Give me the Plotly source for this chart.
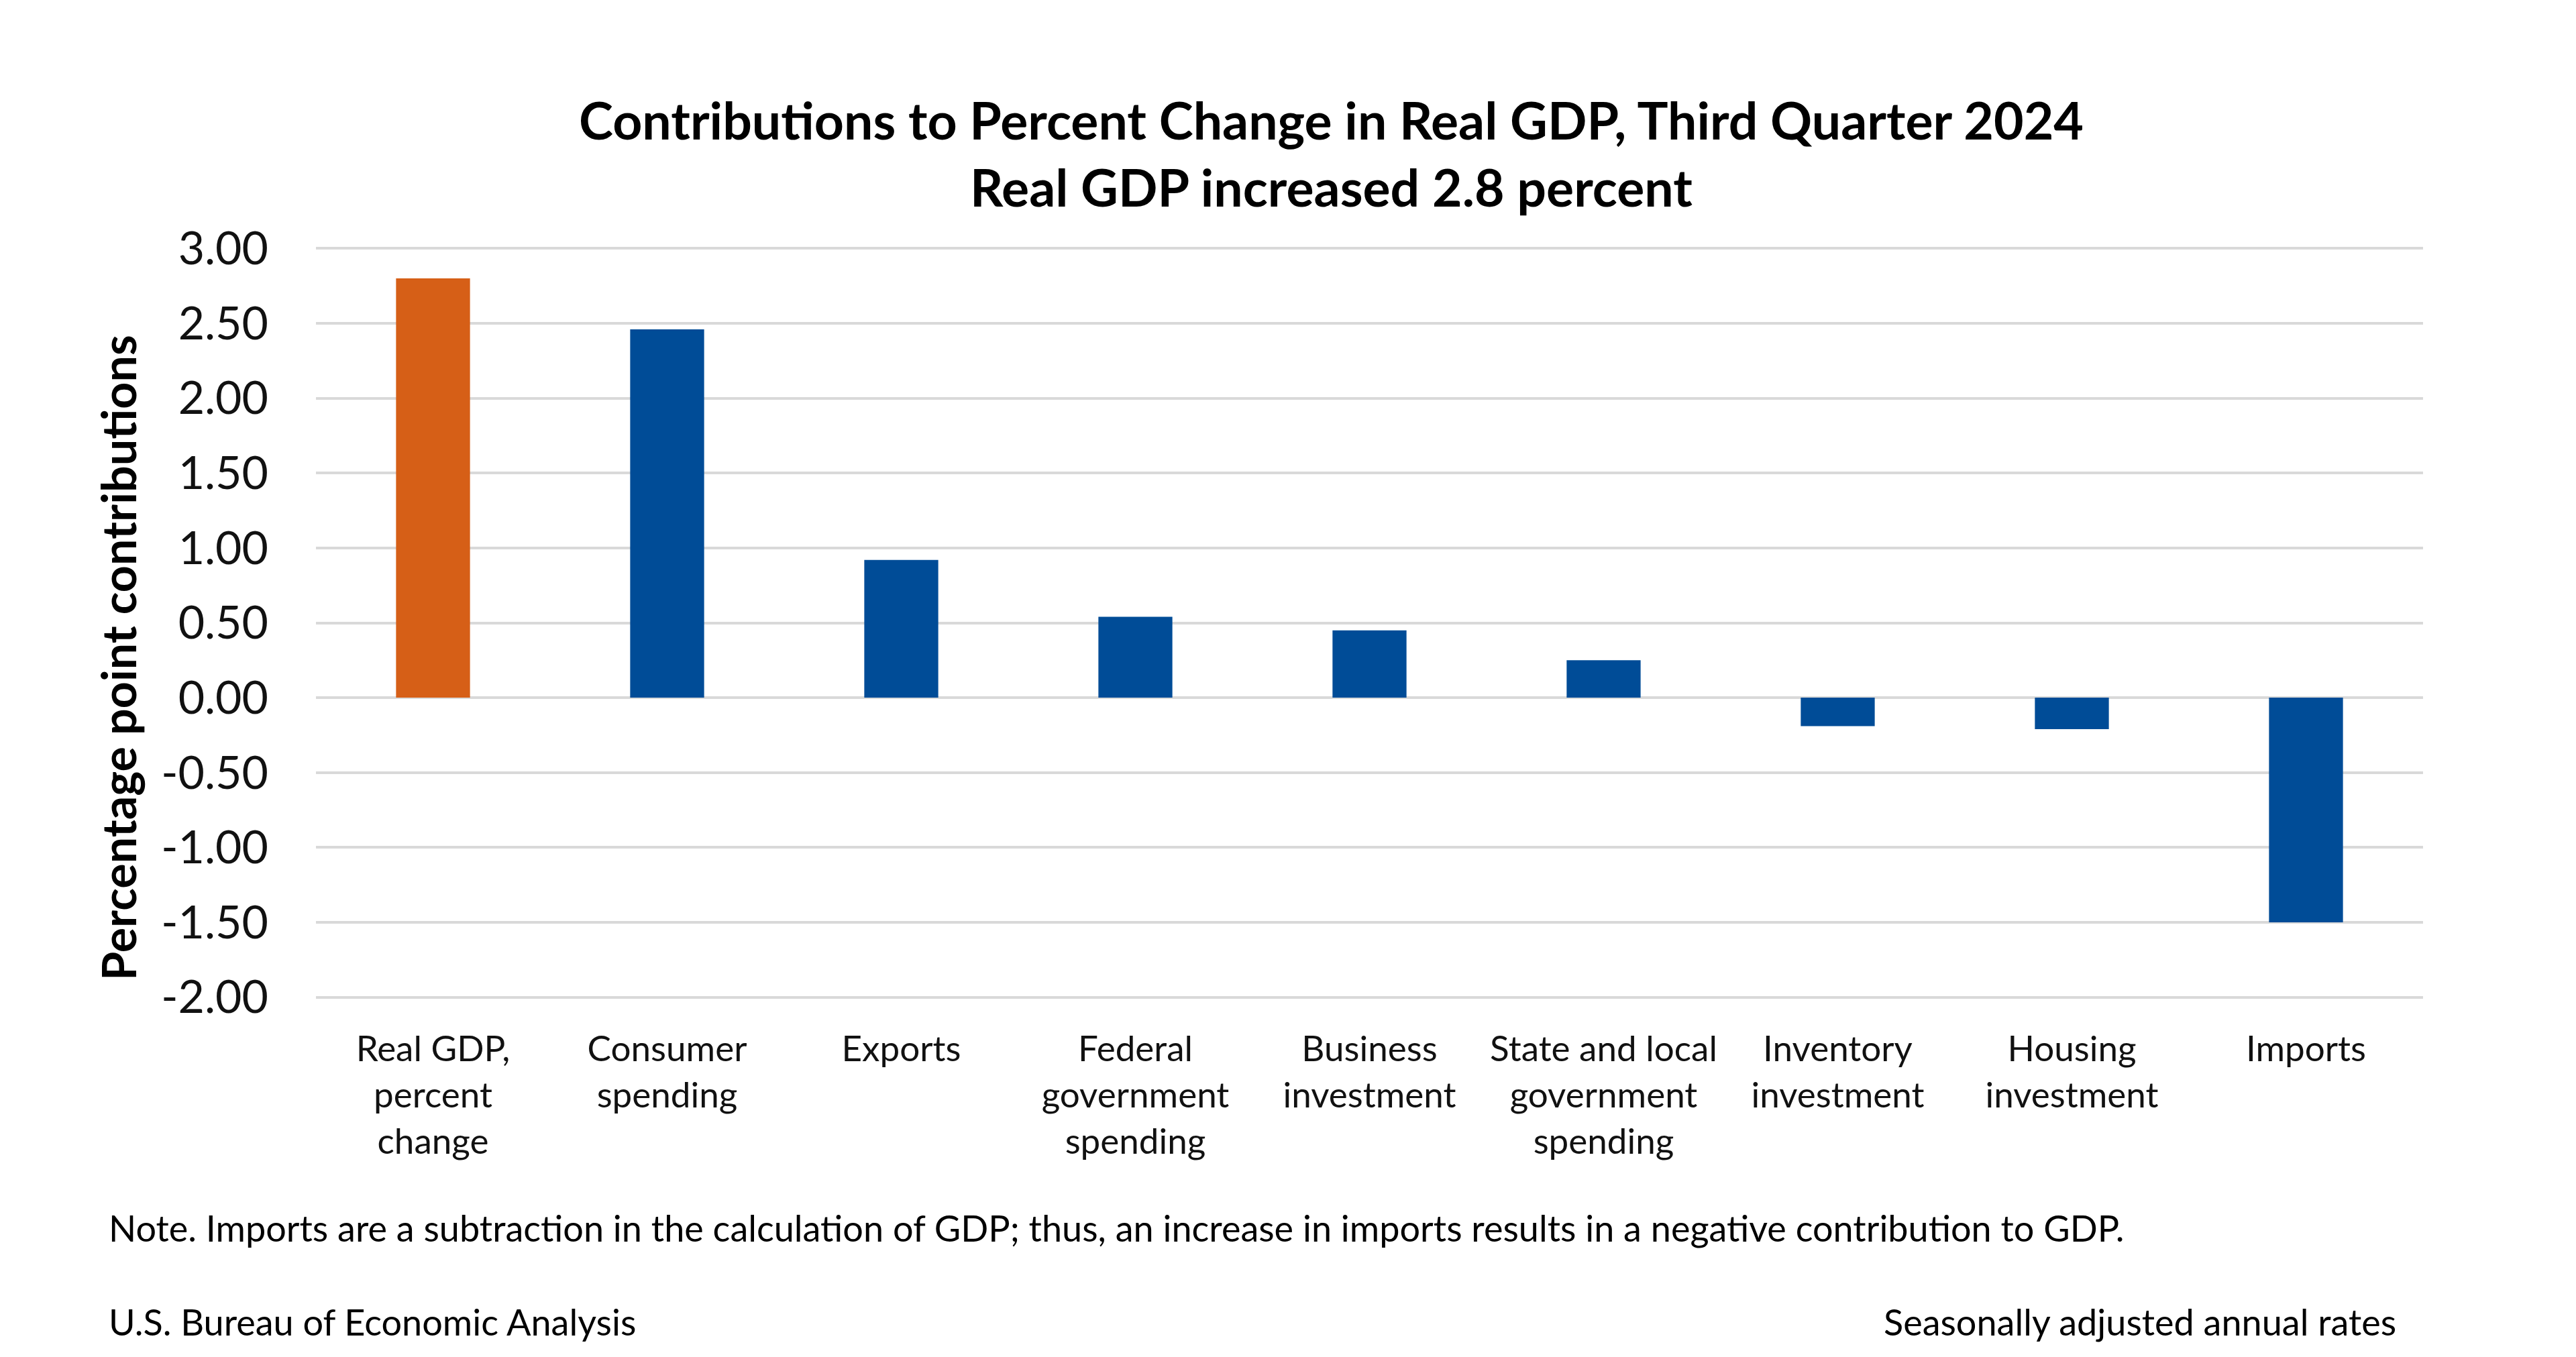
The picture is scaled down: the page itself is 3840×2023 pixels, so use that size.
import plotly.graph_objects as go

categories = ["Real GDP,<br>percent<br>change", "Consumer<br>spending", "Exports",
              "Federal<br>government<br>spending", "Business<br>investment",
              "State and local<br>government<br>spending", "Inventory<br>investment",
              "Housing<br>investment", "Imports"]
values = [2.80, 2.46, 0.92, 0.54, 0.45, 0.25, -0.19, -0.21, -1.50]
bar_colors = ["#D65F17", "#004C97", "#004C97", "#004C97", "#004C97",
              "#004C97", "#004C97", "#004C97", "#004C97"]
y_ticks = [3.0, 2.5, 2.0, 1.5, 1.0, 0.5, 0.0, -0.5, -1.0, -1.5, -2.0]
y_tick_text = ["3.00", "2.50", "2.00", "1.50", "1.00", "0.50", "0.00",
               "-0.50", "-1.00", "-1.50", "-2.00"]

FONT = "Lato, 'Open Sans', sans-serif"
W, H = 3840, 2023
YMIN, YMAX = -2.02, 3.02
# pixel positions of the y=3 and y=-2 gridlines in the target
y3_px, ym2_px = 362, 1479
unit = (ym2_px - y3_px) / 5.0
T = round(y3_px - (YMAX - 3.0) * unit)
B = round(H - (ym2_px + (-2.0 - YMIN) * unit))
L, R = 463, 236
pw, ph = W - L - R, H - T - B

def px(xp):
    return (xp - L) / pw

def py(yp):
    return (H - B - yp) / ph

fig = go.Figure(go.Bar(x=list(range(len(categories))), y=values,
                       marker=dict(color=bar_colors, line=dict(width=0)),
                       hoverinfo="skip"))

fig.update_layout(
    width=W, height=H,
    margin=dict(l=L, r=R, t=T, b=B),
    paper_bgcolor="white", plot_bgcolor="white",
    bargap=0.684, showlegend=False,
    font=dict(family=FONT, color="#111111"),
    xaxis=dict(tickvals=list(range(len(categories))), ticktext=categories,
               range=[-0.5, len(categories) - 0.5], showgrid=False,
               zeroline=False, showline=False, ticks="",
               tickfont=dict(size=53, family=FONT, color="#111111"),
               ticklabelstandoff=37),
    yaxis=dict(range=[YMIN, YMAX], tickvals=y_ticks, ticktext=y_tick_text,
               showgrid=True, gridcolor="#D9D9D9", gridwidth=4,
               zeroline=False, showline=False, ticks="",
               tickfont=dict(size=68, family=FONT, color="#111111"),
               ticklabelstandoff=70),
)

fig.add_annotation(xref="paper", yref="paper", x=px(1976), y=py(220),
                   xanchor="center", yanchor="middle", showarrow=False,
                   text="<b>Contributions to Percent Change in Real GDP, Third Quarter 2024</b><br>"
                        "<b>Real GDP increased 2.8 percent</b>",
                   font=dict(size=77, family=FONT, color="#000000"))
fig.add_annotation(xref="paper", yref="paper", x=px(168), y=py(973),
                   xanchor="center", yanchor="middle", showarrow=False,
                   textangle=-90, text="<b>Percentage point contributions</b>",
                   font=dict(size=70, family=FONT, color="#000000"))
fig.add_annotation(xref="paper", yref="paper", x=px(152), y=py(1822),
                   xanchor="left", yanchor="middle", showarrow=False,
                   text="Note. Imports are a subtraction in the calculation of GDP; thus, an increase in imports results in a negative contribution to GDP.",
                   font=dict(size=54, family=FONT, color="#000000"))
fig.add_annotation(xref="paper", yref="paper", x=px(152), y=py(1962),
                   xanchor="left", yanchor="middle", showarrow=False,
                   text="U.S. Bureau of Economic Analysis",
                   font=dict(size=54, family=FONT, color="#000000"))
fig.add_annotation(xref="paper", yref="paper", x=px(3566), y=py(1962),
                   xanchor="right", yanchor="middle", showarrow=False,
                   text="Seasonally adjusted annual rates",
                   font=dict(size=54, family=FONT, color="#000000"))

fig.write_html("out.html")
